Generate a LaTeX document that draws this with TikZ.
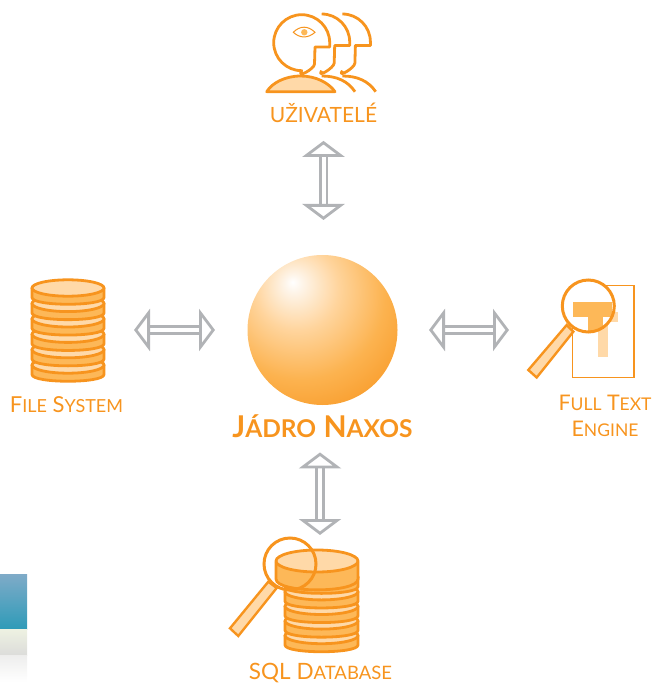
\documentclass[tikz,border=0pt]{standalone}
\usepackage{fontspec}
\setmainfont{Lato}
\usetikzlibrary{arrows.meta}
\definecolor{org}{HTML}{F7941E}
\definecolor{mid}{HTML}{FDB858}
\definecolor{lite}{HTML}{FFD9A8}
\definecolor{arrowgrey}{HTML}{B1B3B6}
\definecolor{picA}{HTML}{7FABC8}
\definecolor{picB}{HTML}{2E9BB8}
\definecolor{picC}{HTML}{EEF2E2}
\definecolor{picD}{HTML}{DCDCDA}
\pgfdeclareradialshading{sphereshade}{\pgfpoint{-10bp}{16bp}}{
  color(0bp)=(white);
  color(3bp)=(white!90!org);
  color(14bp)=(lite!85!mid);
  color(28bp)=(mid!85!org);
  color(44bp)=(org);
  color(100bp)=(org)}
\newcommand{\smc}[2]{{\fontsize{#1}{#1}\selectfont #2}}
\tikzset{
  lbl/.style={text=org,inner sep=0pt,anchor=base,align=center},
  port/.style={inner sep=0pt,outer sep=0pt},
  outl/.style={draw=org,line width=2.8pt,line join=round},
  biarrow/.style={draw=arrowgrey,line width=2.8pt,double=white,double distance=4pt,
    {Triangle[length=16pt,width=42pt,fill=white,line width=2.8pt 0 0]}-{Triangle[length=16pt,width=42pt,fill=white,line width=2.8pt 0 0]}},
  lens/.style={draw=org,line width=3pt},
  handle/.style={draw=org,fill=lite,line width=2.4pt,line join=miter},
}
\newcommand{\disc}[4]{% x,y,rx,thick
  \path[outl,fill=mid] (#1-#3,#2) -- (#1-#3,#2+#4)
    .. controls (#1-#3,#2+#4+9) and (#1+#3,#2+#4+9) .. (#1+#3,#2+#4)
    -- (#1+#3,#2) -- cycle;
  \path[outl,fill=lite] (#1,#2) ellipse [x radius=#3,y radius=8.2];
}
\begin{document}
\begin{tikzpicture}[x=1pt,y=-1pt]
\useasboundingbox (0,0) rectangle (652,684);
% cropped picture at the lower-left edge
\shade[top color=picA,bottom color=picB] (0,574) rectangle (27,629);
\shade[top color=picC,bottom color=picD] (0,629) rectangle (27,655);
\shade[top color=picD!50!white,bottom color=white] (0,655) rectangle (27,682);
% core
\node[port,circle,minimum size=150pt,shading=sphereshade] (core) at (322.5,330) {};
\node[lbl,font=\bfseries\fontsize{30}{30}\selectfont] (lblcore) at (322.5,437) {J\smc{24.5}{\'{A}DRO} N\smc{24.5}{AXOS}};
% users
\foreach \dx in {41.4,20.7}{
  \begin{scope}[xshift=\dx pt]
  \draw[outl,fill=none] (301,14) arc[start angle=90,end angle=0,radius=28pt] -- ++(0,3.5) -- ++(-15,0) -- ++(-.5,17.5)
    .. controls +(0,5) and +(-6,8) .. (301,70.7);
  \draw[outl] (301,76) .. controls (316,76) and (327,81) .. (334.3,91.7);
  \end{scope}
}
\draw[outl,fill=lite] (266.7,91.7) .. controls (272,83) and (285,76) .. (300.7,76)
   .. controls (316,76) and (329,83) .. (335,91.7) -- cycle;
\draw[outl,fill=white] (301.7,70.7) arc[start angle=270,end angle=0,radius=28pt] -- ++(0,4.3) -- ++(-14.7,0) -- ++(-.5,17)
   .. controls +(0,5) and +(-6,8.4) .. cycle;
\draw[org,line width=1pt] (293.3,32.3) .. controls (300,25.5) and (308,25.5) .. (315,32.3)
   .. controls (308,38.5) and (300,38.5) .. cycle;
\fill[mid] (304.3,32.3) circle[radius=3.2pt];
\node[lbl,font=\fontsize{21}{21}\selectfont] (lblusers) at (323.5,122.5) {U\v{Z}IVATEL\'{E}};
% file system
\node[port,minimum width=74pt,minimum height=104pt] (fs) at (68,330) {};
\foreach \yy in {365,349.6,334.2,318.8,303.4,288}{\disc{68}{\yy}{36}{9.5}}
\node[lbl,font=\fontsize{22}{22}\selectfont] (lblfs) at (66.5,412) {F\smc{18}{ILE} S\smc{18}{YSTEM}};
% full text
\node[port,minimum width=110pt,minimum height=98pt] (fte) at (583,330) {};
\draw[org,line width=1.4pt] (572.3,285.7) rectangle (634,377.3);
\fill[lite] (588,311.7) rectangle (618.3,321.7);
\fill[lite] (598.3,311.7) rectangle (608.3,357);
\draw[handle] (528.3,370) -- (536.7,377.5) -- (573.3,331.7) -- (566.7,325) -- cycle;
\fill[white] (588.3,306) circle[radius=26pt];
\begin{scope}
  \clip (588.3,306) circle[radius=26pt];
  \fill[mid] (573.3,302.3) rectangle (611.7,316.7);
  \fill[mid] (588.3,302.3) rectangle (602.7,335);
\end{scope}
\draw[lens] (588.3,306) circle[radius=26pt];
\node[lbl,font=\fontsize{21.5}{21.5}\selectfont] (lblfte) at (605,410) {F\smc{17.5}{ULL} T\smc{17.5}{EXT}};
\node[lbl,font=\fontsize{21.5}{21.5}\selectfont] (lblfte2) at (605,436) {E\smc{17.5}{NGINE}};
% sql
\node[port,minimum width=72pt,minimum height=100pt] (sql) at (320,598) {};
\draw[handle] (230,628.3) -- (238.3,636) -- (276.7,588) -- (268.3,581.7) -- cycle;
\foreach \yy in {635.5,620.9,606.3,591.7,577.1}{\disc{321.5}{\yy}{36.5}{9.5}}
\path[outl,fill=mid] (276,562) -- (276,579) .. controls (276,593.5) and (358,593.5) .. (358,579) -- (358,562) -- cycle;
\path[outl,fill=lite] (317,561) ellipse [x radius=41,y radius=11];
\draw[lens] (290,564) circle[radius=26pt];
\node[lbl,font=\fontsize{22.5}{22.5}\selectfont] (lblsql) at (320.5,679) {SQL D\smc{18.5}{ATABASE}};
% connectors
\draw[biarrow,shorten <=18pt,shorten >=35pt] (lblusers.south) -- (lblusers.south |- core.north);
\draw[biarrow,shorten <=29pt,shorten >=32.5pt] (fs.east) -- (core.west);
\draw[biarrow,shorten <=31.5pt,shorten >=19pt] (core.east) -- (fte.west);
\draw[biarrow,shorten <=15pt,shorten >=13pt] (lblcore.south -| sql.north) -- (sql.north);
\end{tikzpicture}
\end{document}
